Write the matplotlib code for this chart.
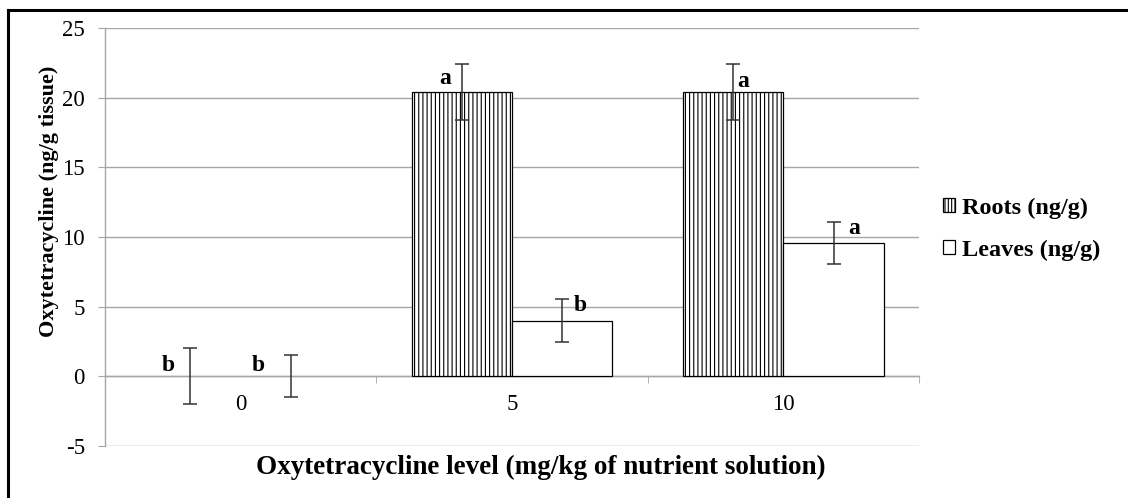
import matplotlib
matplotlib.use("Agg")
import matplotlib.pyplot as plt
from matplotlib.lines import Line2D
from matplotlib.patches import Patch
import numpy as np

categories = ["0", "5", "10"]
roots = [0.0, 20.4, 20.4]
roots_err = [2.0, 2.0, 2.0]
leaves = [0.0, 4.0, 9.55]
leaves_err = [1.5, 1.55, 1.5]
roots_letters = ["b", "a", "a"]
leaves_letters = ["b", "b", "a"]
series_names = ["Roots (ng/g)", "Leaves (ng/g)"]
yticks = [-5, 0, 5, 10, 15, 20, 25]

plt.rcParams['font.family'] = ['Liberation Serif', 'DejaVu Serif']
plt.rcParams['hatch.linewidth'] = 0.8

fig = plt.figure(figsize=(11.28, 4.98), dpi=100)
ax = fig.add_axes([105/1128, 1-446/498, 814/1128, 418/498])

x = np.arange(len(categories)) + 0.5
w = 0.37
r_lw = [0 if v == 0 else 0.9 for v in roots]
l_lw = [0 if v == 0 else 0.9 for v in leaves]
ax.bar(x - w/2, roots, w, color='white', edgecolor='black', linewidth=r_lw,
       hatch='||||', zorder=3)
ax.bar(x + w/2, leaves, w, color='white', edgecolor='black', linewidth=l_lw, zorder=3)
ax.errorbar(x - w/2, roots, yerr=roots_err, fmt='none', ecolor='#333333',
            elinewidth=1.1, capsize=5, capthick=1.1, zorder=4)
ax.errorbar(x + w/2, leaves, yerr=leaves_err, fmt='none', ecolor='#333333',
            elinewidth=1.1, capsize=5, capthick=1.1, zorder=4)

lfs = 17
for i in range(len(categories)):
    if i == 0:
        ax.text(x[i] - w/2 - 0.08, roots[i] + 0.05, roots_letters[i], ha='center', va='bottom',
                fontsize=lfs, fontweight='bold', zorder=5)
        ax.text(x[i] + w/2 - 0.12, leaves[i] + 0.05, leaves_letters[i], ha='center', va='bottom',
                fontsize=lfs, fontweight='bold', zorder=5)
    elif i == 1:
        ax.text(x[i] - w/2 - 0.06, roots[i] + roots_err[i] - 1.75, roots_letters[i], ha='center',
                va='bottom', fontsize=lfs, fontweight='bold', zorder=5)
        ax.text(x[i] + w/2 + 0.065, leaves[i] + 0.3, leaves_letters[i], ha='center',
                va='bottom', fontsize=lfs, fontweight='bold', zorder=5)
    else:
        ax.text(x[i] - w/2 + 0.037, roots[i] + roots_err[i] - 2.0, roots_letters[i], ha='center',
                va='bottom', fontsize=lfs, fontweight='bold', zorder=5)
        ax.text(x[i] + w/2 + 0.075, leaves[i] + 0.3, leaves_letters[i], ha='center',
                va='bottom', fontsize=lfs, fontweight='bold', zorder=5)

ax.set_xlim(0, len(categories))
ax.set_ylim(-5, 25)
ax.set_yticks(yticks)
ax.set_yticklabels([str(t) for t in yticks])
ax.set_xticks(x)
ax.set_xticklabels(categories)
ax.set_xticks(np.arange(len(categories) + 1), minor=True)

grid_c = '#a6a6a6'
ax.yaxis.grid(True, color=grid_c, linewidth=1.0, zorder=0)
ax.set_axisbelow(True)
for s in ['top', 'right']:
    ax.spines[s].set_visible(False)
ax.spines['left'].set_color(grid_c)
ax.spines['left'].set_linewidth(1.0)
ax.spines['bottom'].set_position(('data', 0))
ax.spines['bottom'].set_color(grid_c)
ax.spines['bottom'].set_linewidth(1.0)
ax.spines['bottom'].set_zorder(2)

ax.tick_params(axis='y', length=5, color=grid_c, labelsize=16.5, pad=9.4)
ax.tick_params(axis='x', which='major', length=0, labelsize=16.5, pad=13)
ax.tick_params(axis='x', which='minor', length=5, color=grid_c, direction='out')

ax.set_ylabel("Oxytetracycline (ng/g tissue)", fontsize=16, fontweight='bold')
ax.yaxis.set_label_coords(-0.056, 0.586)
ax.set_xlabel("Oxytetracycline level (mg/kg of nutrient solution)", fontsize=19.5, fontweight='bold')
ax.xaxis.set_label_coords(0.536, -0.022)

handles = [Patch(facecolor='white', edgecolor='black', linewidth=0.9, hatch='|||||',
                 label=series_names[0]),
           Patch(facecolor='white', edgecolor='black', linewidth=0.9,
                 label=series_names[1])]
leg = ax.legend(handles=handles, loc='center left', bbox_to_anchor=(1.014, 0.519),
                frameon=False, handlelength=0.5, handleheight=0.5, borderpad=0,
                handletextpad=0.3, labelspacing=0.85,
                prop={'weight': 'bold', 'size': 17.5})

# outer frame (top and left edges only visible)
fig.add_artist(Line2D([8/1128, 1.0], [1-10/498, 1-10/498], color='black', linewidth=2.2,
                      transform=fig.transFigure))
fig.add_artist(Line2D([8/1128, 8/1128], [0, 1-10/498], color='black', linewidth=2.2,
                      transform=fig.transFigure))

fig.savefig("out.png", dpi=100)
